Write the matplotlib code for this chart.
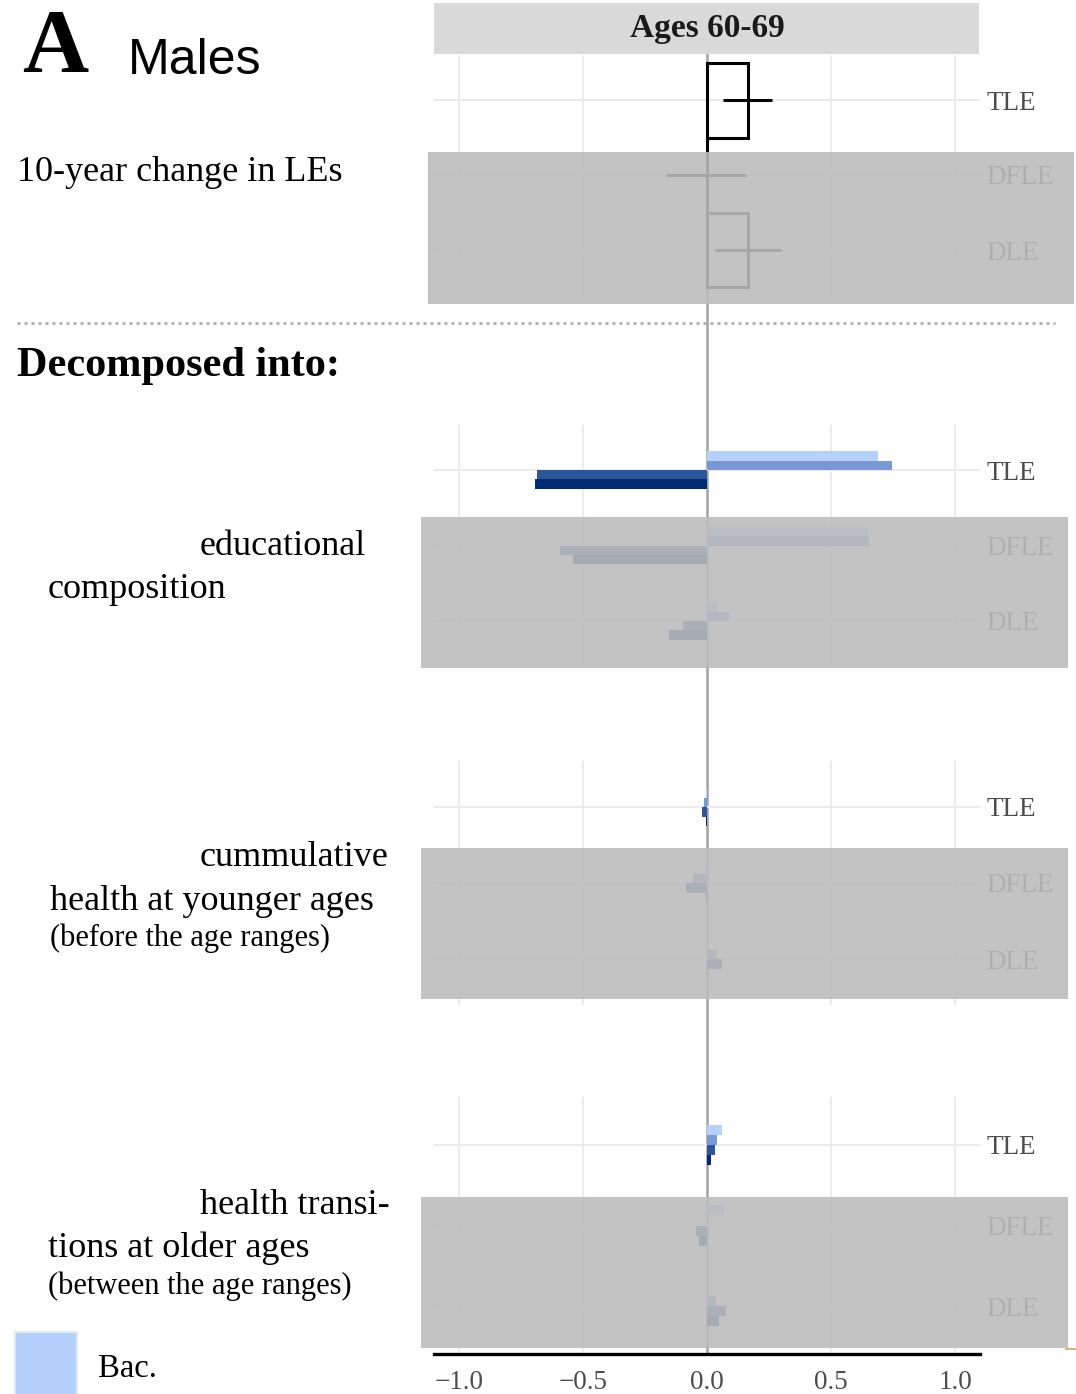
import numpy as np
import matplotlib.pyplot as plt
from matplotlib.patches import Rectangle
from matplotlib.lines import Line2D

plt.rcParams['font.family'] = ['Liberation Serif', 'DejaVu Serif']

# ---------- data ----------
rows = ["TLE", "DFLE", "DLE"]

# 10-year change in life expectancies (point estimate + interval)
change_est = [0.165, 0.0, 0.165]
change_lo = [0.065, -0.167, 0.032]
change_hi = [0.262, 0.157, 0.298]

# decomposition, one value per education level (rows: TLE, DFLE, DLE)
level_colors = ["#b3d1fb", "#7899d6", "#2d5597", "#002b72"]
legend_label = "Bac."

educ_tle = [0.69, 0.745, -0.685, -0.694]
educ_dfle = [0.65, 0.655, -0.592, -0.54]
educ_dle = [0.04, 0.09, -0.097, -0.153]

cum_tle = [-0.005, -0.014, -0.022, -0.005]
cum_dfle = [-0.01, -0.057, -0.085, -0.005]
cum_dle = [0.005, 0.039, 0.061, 0.002]

trans_tle = [0.06, 0.039, 0.034, 0.017]
trans_dfle = [0.067, 0.0, -0.043, -0.033]
trans_dle = [0.0, 0.037, 0.077, 0.047]

x_ticks = [-1.0, -0.5, 0.0, 0.5, 1.0]
grid_x = [-1.0, -0.5, 0.5, 1.0]

# ---------- layout helpers (pixel -> figure fraction) ----------
W, H = 1076, 1394
fig = plt.figure(figsize=(W / 100, H / 100), dpi=100)
fig.patch.set_facecolor("white")

def fx(x):
    return x / W

def fy(y):
    return 1 - y / H

XL, XR = 434.2, 979.8
ypos = np.arange(1, 4)
GRID = "#ebebeb"
LABEL = "#4d4d4d"

def panel(first_row, step):
    top = first_row - 0.6 * step
    bot = first_row + 2.6 * step
    ax = fig.add_axes([fx(XL), fy(bot), (XR - XL) / W, (bot - top) / H])
    ax.set_xlim(-1.1, 1.1)
    ax.set_ylim(3.6, 0.4)
    ax.patch.set_visible(False)
    for s in ax.spines.values():
        s.set_visible(False)
    for gx in grid_x:
        ax.axvline(gx, color=GRID, lw=1.5, zorder=0)
    for gy in ypos:
        ax.axhline(gy, color=GRID, lw=1.5, zorder=0)
    ax.yaxis.tick_right()
    ax.set_yticks(ypos, rows)
    ax.tick_params(axis="y", length=0, pad=5, labelsize=19.5, labelcolor=LABEL)
    ax.set_xticks([])
    return ax

def shade(x0, y0, x1, y1):
    fig.patches.append(Rectangle((fx(x0), fy(y1)), (x1 - x0) / W, (y1 - y0) / H,
                                 transform=fig.transFigure, facecolor="#bcbcbc",
                                 edgecolor="none", alpha=0.886, zorder=5))

# zero line running through all panels
fig.lines.append(Line2D([fx(707), fx(707)], [fy(54), fy(1354)], transform=fig.transFigure,
                        color="#a3a3a3", lw=1.8, zorder=-1))

# ---------- top panel: total change ----------
ax0 = panel(100, 75)
ax0.barh(ypos, change_est, height=1.0, fill=False, edgecolor="black", lw=2.2,
         joinstyle="miter")
ax0.hlines(ypos, change_lo, change_hi, color="black", lw=2.2)

fig.patches.append(Rectangle((fx(434), fy(54)), (979 - 434) / W, 51 / H,
                             transform=fig.transFigure, facecolor="#d9d9d9",
                             edgecolor="none"))
fig.text(fx(707), fy(28.5), "Ages 60-69", ha="center", va="center", fontsize=24,
         fontweight="bold", color="#1a1a1a")

# ---------- decomposition panels ----------
def decomposition(ax, tle, dfle, dle):
    vals = np.array([tle, dfle, dle])
    for j, col in enumerate(level_colors):
        ax.barh(ypos + (j - 1.5) * 0.125, vals[:, j], height=0.125, color=col, lw=0)

ax1 = panel(470, 75.5)
decomposition(ax1, educ_tle, educ_dfle, educ_dle)
ax2 = panel(807, 76)
decomposition(ax2, cum_tle, cum_dfle, cum_dle)
ax3 = panel(1145, 80.5)
decomposition(ax3, trans_tle, trans_dfle, trans_dle)

ax3.spines["bottom"].set_visible(True)
ax3.spines["bottom"].set_linewidth(2.4)
ax3.spines["bottom"].set_color("black")
ax3.set_xticks(x_ticks, [f"{v:.1f}".replace("-", "\u2212") for v in x_ticks])
ax3.tick_params(axis="x", length=0, pad=11, labelsize=19.5, labelcolor=LABEL)

# grey veils over the DFLE / DLE rows
shade(428, 152, 1074, 304)
shade(421, 517, 1068, 668)
shade(421, 848, 1068, 999)
shade(421, 1197, 1068, 1348)

# ---------- left-hand annotations ----------
fig.text(fx(22), fy(72), "A", fontsize=66, fontweight="bold", va="baseline")
fig.text(fx(128), fy(74), "Males", fontsize=36, va="baseline",
         family=["Liberation Sans", "DejaVu Sans"])
fig.text(fx(17), fy(181), "10-year change in LEs", fontsize=26, va="baseline")

fig.lines.append(Line2D([fx(17), fx(1055)], [fy(323), fy(323)], transform=fig.transFigure,
                        color="#a8a8a8", lw=1.8, linestyle=(0, (1.2, 1.6))))
fig.text(fx(17), fy(376), "Decomposed into:", fontsize=30.4, fontweight="bold",
         va="baseline")

fig.text(fx(200), fy(555), "educational", fontsize=26, va="baseline")
fig.text(fx(48), fy(598), "composition", fontsize=26, va="baseline")

fig.text(fx(200), fy(866), "cummulative", fontsize=26, va="baseline")
fig.text(fx(50), fy(910), "health at younger ages", fontsize=26, va="baseline")
fig.text(fx(50), fy(946), "(before the age ranges)", fontsize=22, va="baseline")

fig.text(fx(200), fy(1214), "health transi-", fontsize=26, va="baseline")
fig.text(fx(48), fy(1257), "tions at older ages", fontsize=26, va="baseline")
fig.text(fx(48), fy(1294), "(between the age ranges)", fontsize=22, va="baseline")

# legend (first education level only)
fig.patches.append(Rectangle((fx(15), fy(1400)), 62 / W, 68 / H, transform=fig.transFigure,
                             facecolor=level_colors[0], edgecolor="#dfe9f8", lw=1.5))
fig.text(fx(98), fy(1377), legend_label, fontsize=23.5, va="baseline")

fig.lines.append(Line2D([fx(1066), fx(1076)], [fy(1349), fy(1349)], transform=fig.transFigure,
                        color="#c9a466", lw=1.2))

fig.savefig("out.png", dpi=100)
